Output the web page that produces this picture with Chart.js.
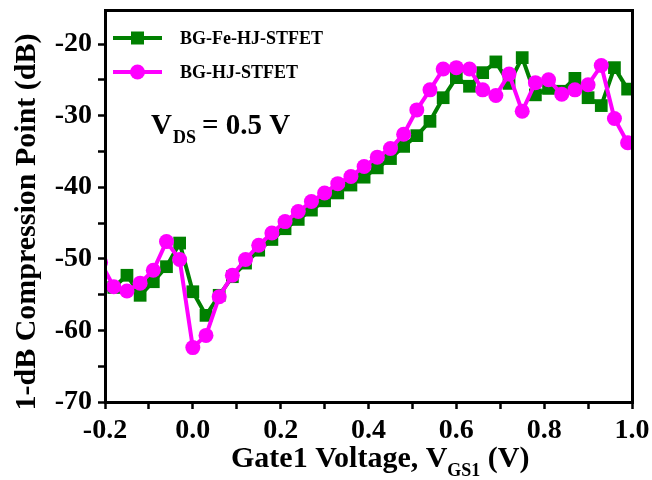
<!DOCTYPE html>
<html>
<head>
<meta charset="utf-8">
<script src="https://cdn.jsdelivr.net/npm/chart.js@4/dist/chart.umd.min.js"></script>
<style>
  html, body { margin: 0; padding: 0; background: #fff; overflow: hidden; }
  #wrap { position: relative; width: 652px; height: 480px; }
  canvas { display: block; }
  #frame { position: absolute; box-sizing: border-box; border: 3px solid #000; pointer-events: none; }
</style>
</head>
<body>
<div id="wrap">
  <canvas id="chart" width="652" height="480"></canvas>
  <div id="frame"></div>
</div>
<script>
// gate voltage VGS1 (V)
const voltages = [-0.21, -0.18, -0.15, -0.12, -0.09, -0.06, -0.03, 0.0, 0.03, 0.06,
  0.09, 0.12, 0.15, 0.18, 0.21, 0.24, 0.27, 0.30, 0.33, 0.36,
  0.39, 0.42, 0.45, 0.48, 0.51, 0.54, 0.57, 0.60, 0.63, 0.66,
  0.69, 0.72, 0.75, 0.78, 0.81, 0.84, 0.87, 0.90, 0.93, 0.96, 0.99];

// 1-dB compression point (dB)
const feHjStfet = [-54.5, -54.0, -52.3, -55.1, -53.2, -51.1, -47.8, -54.6, -57.9, -55.1,
  -52.5, -50.6, -48.8, -47.3, -45.8, -44.5, -43.2, -41.9, -40.8, -39.7,
  -38.6, -37.3, -36.0, -34.3, -32.8, -30.8, -27.5, -24.7, -25.9, -24.0,
  -22.5, -25.5, -21.9, -27.1, -26.2, -26.6, -24.8, -27.5, -28.6, -23.3, -26.3];

const hjStfet = [-50.5, -53.9, -54.5, -53.4, -51.6, -47.6, -50.1, -62.4, -60.7, -55.3,
  -52.3, -50.1, -48.1, -46.4, -44.8, -43.4, -42.0, -40.8, -39.5, -38.5,
  -37.1, -35.8, -34.6, -32.6, -29.2, -26.4, -23.5, -23.3, -23.5, -26.4,
  -27.2, -24.2, -29.4, -25.4, -25.0, -27.0, -26.4, -25.7, -23.0, -30.4, -33.8];

const xTicks = [-0.2, 0.0, 0.2, 0.4, 0.6, 0.8, 1.0];
const xMinorTicks = [-0.1, 0.1, 0.3, 0.5, 0.7, 0.9];
const yTicks = [-70, -60, -50, -40, -30, -20];
const yMinorTicks = [-65, -55, -45, -35, -25];

const seriesNames = ['BG-Fe-HJ-STFET', 'BG-HJ-STFET'];

const GREEN = '#008000';
const MAGENTA = '#ff00ff';
const SERIF = '"Liberation Serif", "Times New Roman", serif';

const toPoints = (ys) => voltages.map((v, i) => ({ x: v, y: ys[i] }));
const allTicks = (major, minor) => major.concat(minor).sort((a, b) => a - b).map(v => ({ value: v }));
const isMajor = (list, v) => list.some(m => Math.abs(m - v) < 1e-6);

// legend and the text with subscripts; frame follows the chart area
const decorations = {
  id: 'decorations',
  afterDraw(chart) {
    const ctx = chart.ctx;
    const a = chart.chartArea;

    const frame = document.getElementById('frame');
    frame.style.left = (a.left - 1.5) + 'px';
    frame.style.top = (a.top - 1.5) + 'px';
    frame.style.width = (a.right - a.left + 3) + 'px';
    frame.style.height = (a.bottom - a.top + 3) + 'px';

    ctx.save();
    // legend
    const legend = [
      { name: seriesNames[0], color: GREEN, style: 'rect', y: 38 },
      { name: seriesNames[1], color: MAGENTA, style: 'circle', y: 72 }
    ];
    legend.forEach(item => {
      ctx.fillStyle = item.color;
      ctx.fillRect(113, item.y - 2, 49, 4);
      ctx.beginPath();
      if (item.style === 'rect') {
        ctx.rect(131, item.y - 6.5, 13, 13);
      } else {
        ctx.arc(137.5, item.y, 7.5, 0, Math.PI * 2);
      }
      ctx.fill();
      ctx.fillStyle = '#000';
      ctx.font = 'bold 18px ' + SERIF;
      ctx.textBaseline = 'middle';
      ctx.textAlign = 'left';
      ctx.fillText(item.name, 180, item.y + 1);
    });

    // V_DS = 0.5 V
    ctx.fillStyle = '#000';
    ctx.textBaseline = 'alphabetic';
    ctx.font = 'bold 29px ' + SERIF;
    ctx.fillText('V', 151, 134);
    ctx.font = 'bold 18px ' + SERIF;
    ctx.fillText('DS', 173, 143);
    ctx.font = 'bold 29px ' + SERIF;
    ctx.fillText('= 0.5 V', 202, 134);

    // x title
    let x = 231;
    ctx.font = 'bold 30px ' + SERIF;
    ctx.fillText('Gate1 Voltage, V', x, 467);
    x += ctx.measureText('Gate1 Voltage, V').width;
    ctx.font = 'bold 18px ' + SERIF;
    ctx.fillText('GS1', x, 476);
    x += ctx.measureText('GS1').width;
    ctx.font = 'bold 30px ' + SERIF;
    ctx.fillText(' (V)', x, 467);

    // y title
    ctx.translate(27, 222);
    ctx.rotate(-Math.PI / 2);
    ctx.textAlign = 'center';
    ctx.textBaseline = 'middle';
    ctx.font = 'bold 30px ' + SERIF;
    ctx.fillText('1-dB Compression Point (dB)', 0, 0);
    ctx.restore();
  }
};

const axisGrid = {
  display: true,
  drawOnChartArea: false,
  drawTicks: true,
  tickLength: 7,
  tickWidth: 2.5,
  tickColor: '#000'
};

new Chart(document.getElementById('chart').getContext('2d'), {
  type: 'line',
  data: {
    datasets: [
      {
        label: seriesNames[0],
        data: toPoints(feHjStfet),
        borderColor: GREEN,
        backgroundColor: GREEN,
        borderWidth: 4,
        pointStyle: 'rect',
        pointRadius: 9,
        pointBorderWidth: 0,
        order: 2
      },
      {
        label: seriesNames[1],
        data: toPoints(hjStfet),
        borderColor: MAGENTA,
        backgroundColor: MAGENTA,
        borderWidth: 4,
        pointStyle: 'circle',
        pointRadius: 7.5,
        pointBorderWidth: 0,
        order: 1
      }
    ]
  },
  options: {
    responsive: false,
    animation: false,
    events: [],
    layout: { padding: { top: 10, right: 20, left: 0, bottom: 0 } },
    plugins: { legend: { display: false }, tooltip: { enabled: false } },
    scales: {
      x: {
        type: 'linear',
        min: -0.2,
        max: 1.0,
        grid: axisGrid,
        border: { display: true, width: 3, color: '#000' },
        afterBuildTicks: (s) => { s.ticks = allTicks(xTicks, xMinorTicks); },
        afterFit: (s) => { s.height = 78; s.paddingLeft = 0; s.paddingRight = 0; },
        ticks: {
          color: '#000',
          padding: 5,
          maxRotation: 0,
          autoSkip: false,
          font: { family: SERIF, size: 28, weight: 'bold' },
          callback: (v) => isMajor(xTicks, v) ? Number(v).toFixed(1) : ''
        }
      },
      y: {
        type: 'linear',
        min: -70,
        max: -15.25,
        grid: axisGrid,
        border: { display: true, width: 3, color: '#000' },
        afterBuildTicks: (s) => { s.ticks = allTicks(yTicks, yMinorTicks); },
        afterFit: (s) => { s.width = 105; s.paddingTop = 0; s.paddingBottom = 0; },
        ticks: {
          color: '#000',
          padding: 6,
          autoSkip: false,
          font: { family: SERIF, size: 28, weight: 'bold' },
          callback: (v) => isMajor(yTicks, v) ? String(v) : ''
        }
      }
    }
  },
  plugins: [decorations]
});
</script>
</body>
</html>
